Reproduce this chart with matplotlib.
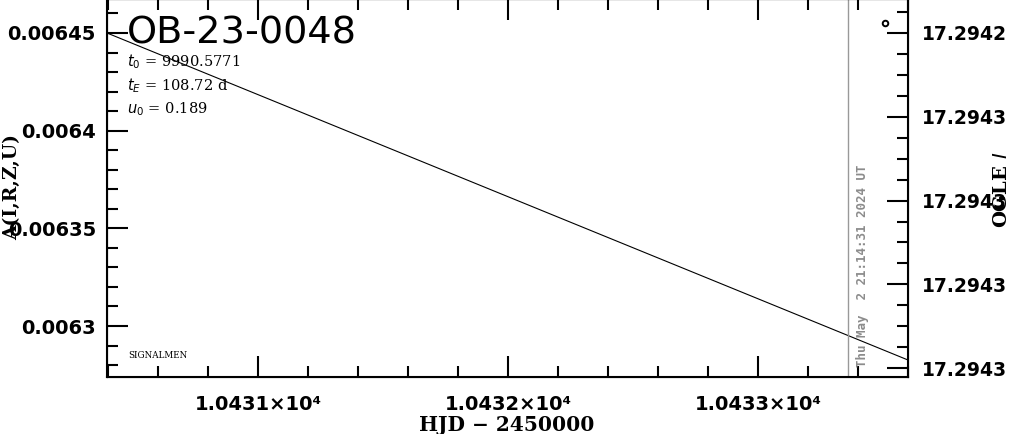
import matplotlib
matplotlib.use("Agg")
import matplotlib.pyplot as plt
from matplotlib.ticker import MultipleLocator, FuncFormatter, FixedLocator

# ---- data ----
event_name = "OB-23-0048"
t0 = 9990.5771
tE = 108.72
u0 = 0.189
model_hjd = [10430.396, 10433.60]
model_amp = [0.006450, 0.0062826]
point_hjd = [10433.508]
point_amp = [0.006455]
now_hjd = 10433.36
now_label = "Thu May  2 21:14:31 2024 UT"
xlim = (10430.396, 10433.60)
ylim_amp = (0.0062739, 0.0064674)
ylim_mag = (17.2943221, 17.2942319)
mag_ticks = [17.29424, 17.29426, 17.29428, 17.29430, 17.29432]
x_ticks = [10431, 10432, 10433]
amp_ticks = [0.0063, 0.00635, 0.0064, 0.00645]

W, H = 1011, 434
fig = plt.figure(figsize=(W / 100, H / 100), dpi=100)
ax_l, ax_r, ax_b, ax_t = 107, 908, 377, -1
ax = fig.add_axes([ax_l / W, (H - ax_b) / H, (ax_r - ax_l) / W, (ax_b - ax_t) / H])

ax.plot(model_hjd, model_amp, color="black", lw=0.8)
ax.plot(point_hjd, point_amp, "o", ms=4, mfc="none", mec="black", mew=1.4)
ax.axvline(now_hjd, color="#999999", lw=1.0)
ax.text(now_hjd + 0.033, 0.0062790, now_label, rotation=90, color="#8c8c8c",
        family="DejaVu Sans Mono", fontweight="bold", fontsize=9,
        ha="left", va="bottom")

ax.set_xlim(*xlim)
ax.set_ylim(*ylim_amp)

TSIZE = 14

ax.xaxis.set_major_locator(FixedLocator(x_ticks))
ax.xaxis.set_minor_locator(MultipleLocator(0.2))
ax.xaxis.set_major_formatter(FuncFormatter(lambda v, p: f"{v/1e4:.4f}\u00d710\u2074"))
ax.yaxis.set_major_locator(FixedLocator(amp_ticks))
ax.yaxis.set_minor_locator(MultipleLocator(0.00001))
ax.yaxis.set_major_formatter(FuncFormatter(lambda v, p: f"{v:g}"))
ax.tick_params(axis="both", which="both", direction="in", width=1.5)
ax.tick_params(axis="x", which="both", top=True)
ax.tick_params(which="major", length=15)
ax.tick_params(which="minor", length=8)
ax.tick_params(axis="x", pad=13)
ax.tick_params(axis="y", pad=8)
for lab in ax.get_xticklabels() + ax.get_yticklabels():
    lab.set_fontfamily("DejaVu Sans")
    lab.set_fontweight("bold")
    lab.set_fontsize(TSIZE)
for s in ax.spines.values():
    s.set_linewidth(1.5)

ax2 = ax.twinx()
ax2.set_ylim(*ylim_mag)
ax2.yaxis.set_major_locator(FixedLocator(mag_ticks))
ax2.yaxis.set_minor_locator(MultipleLocator(0.000005))
ax2.yaxis.set_major_formatter(FuncFormatter(lambda v, p: f"{v:.4f}"))
ax2.tick_params(axis="y", which="both", direction="in", width=1.5, pad=10)
ax2.tick_params(which="major", length=15)
ax2.tick_params(which="minor", length=8)
for lab in ax2.get_yticklabels():
    lab.set_fontfamily("DejaVu Sans")
    lab.set_fontweight("bold")
    lab.set_fontsize(TSIZE - 0.5)

# texts
fig.text(127 / W, 1 - 33 / H, event_name, fontsize=27.5, family="DejaVu Sans",
         ha="left", va="center")
serif = dict(family="DejaVu Serif", fontsize=10.5, ha="left", va="center")
fig.text(127 / W, 1 - 62 / H, rf"$t_0$ = {t0:.4f}", **serif)
fig.text(127 / W, 1 - 86 / H, rf"$t_E$ = {tE:.2f} d", **serif)
fig.text(127 / W, 1 - 109 / H, rf"$u_0$ = {u0:.3f}", **serif)
fig.text(128 / W, 1 - 355 / H, "SIGNALMEN", family="DejaVu Serif", fontsize=6.3,
         ha="left", va="center")
fig.text(507 / W, 1 - 425 / H, "HJD \u2212 2450000", family="DejaVu Serif",
         fontweight="bold", fontsize=14.5, ha="center", va="center")
fig.text(12 / W, 1 - 187 / H, "A(I,R,Z,U)", family="DejaVu Serif",
         fontweight="bold", fontsize=13.5, rotation=90, ha="center", va="center")
fig.text(1002 / W, 1 - 190 / H, "OGLE $\\mathit{I}$", family="DejaVu Serif",
         fontweight="bold", fontsize=14, rotation=90, ha="center", va="center")

fig.savefig("out.png", dpi=100)
